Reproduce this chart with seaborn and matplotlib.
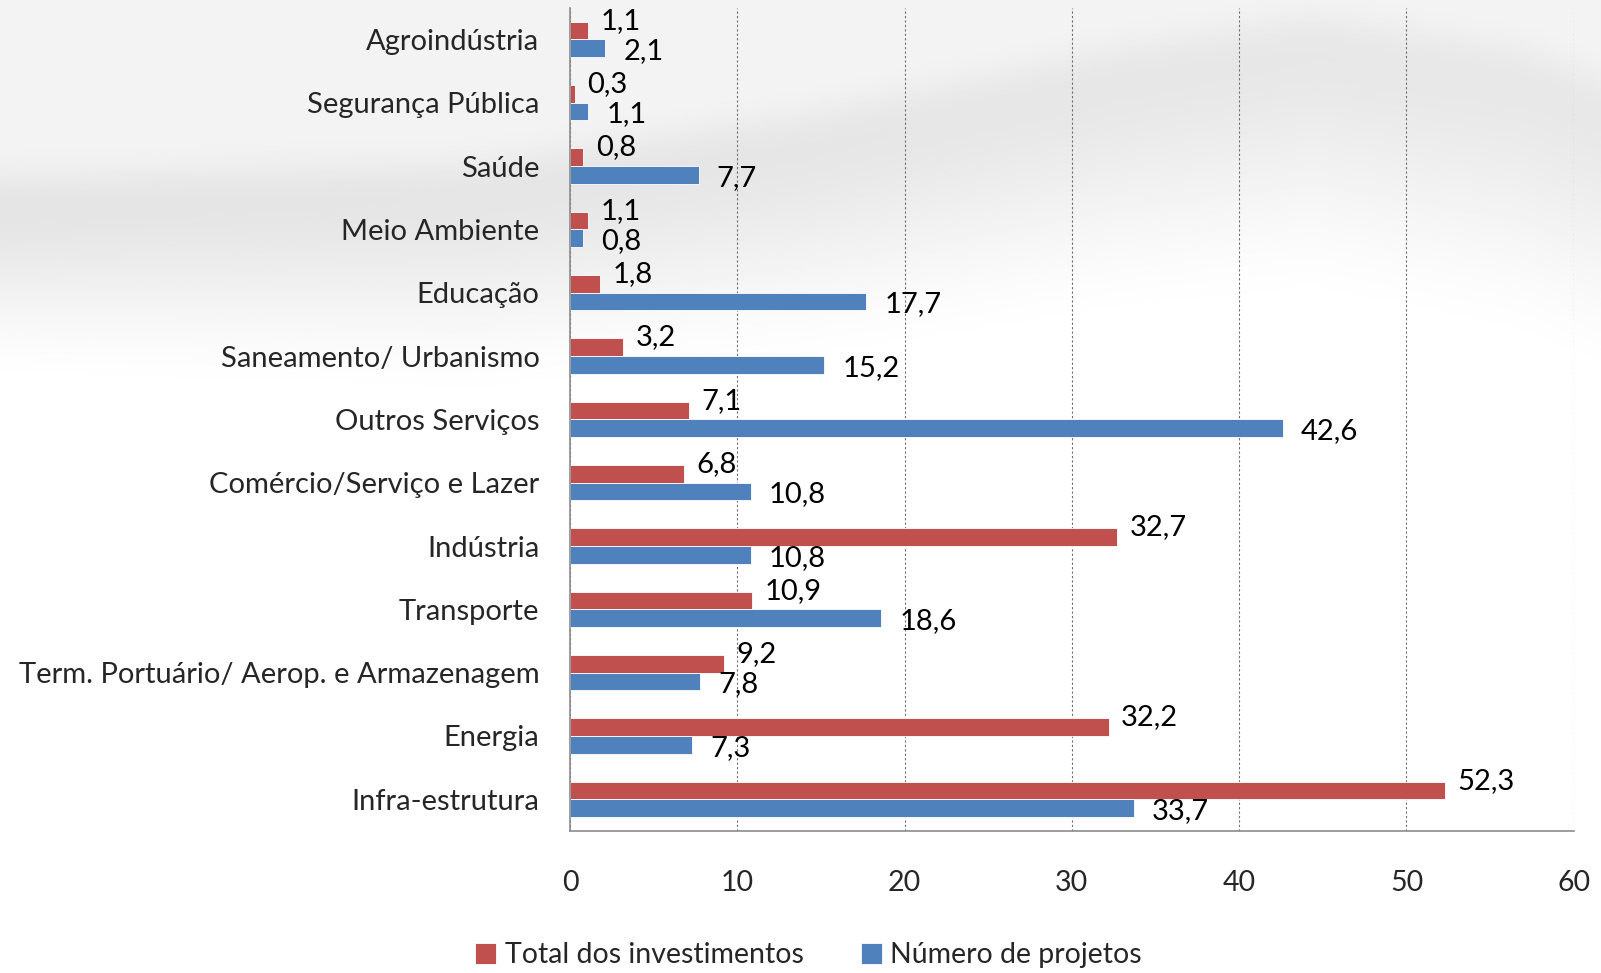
import numpy as np
import pandas as pd
import matplotlib
matplotlib.use("Agg")
import matplotlib.pyplot as plt
import seaborn as sns

# data
setores = ['Agroindústria', 'Segurança Pública', 'Saúde', 'Meio Ambiente', 'Educação',
           'Saneamento/ Urbanismo', 'Outros Serviços', 'Comércio/Serviço e Lazer',
           'Indústria', 'Transporte', 'Term. Portuário/ Aerop. e Armazenagem',
           'Energia', 'Infra-estrutura']
total_investimentos = [1.1, 0.3, 0.8, 1.1, 1.8, 3.2, 7.1, 6.8, 32.7, 10.9, 9.2, 32.2, 52.3]
numero_projetos = [2.1, 1.1, 7.7, 0.8, 17.7, 15.2, 42.6, 10.8, 10.8, 18.6, 7.8, 7.3, 33.7]
series = ['Total dos investimentos', 'Número de projetos']
x_ticks = [0, 10, 20, 30, 40, 50, 60]

df = pd.DataFrame({
    'setor': setores * 2,
    'serie': [series[0]] * len(setores) + [series[1]] * len(setores),
    'valor': total_investimentos + numero_projetos,
})

sns.set_style('white')
plt.rcParams['font.family'] = ['Lato', 'DejaVu Sans']

fig = plt.figure(figsize=(16.01, 9.73), dpi=100)

# decorative grey wave in the background (not data)
bg = fig.add_axes([0, 0, 1, 1], zorder=-1)
xx, yy = np.meshgrid(np.linspace(0, 1, 500), np.linspace(0, 1, 400))
c = np.interp(xx, [0, 0.3, 0.5, 0.7, 0.82, 0.95, 1.0],
              [0.185, 0.17, 0.12, 0.05, 0.018, 0.05, 0.08])
fade_len = 0.22 + 0.12 * xx
t = np.clip((yy - c) / fade_len, 0, 1)
below = 0.885 + 0.115 * (3 * t ** 2 - 2 * t ** 3) + 0.02 * xx * (1 - t)
s = 1 / (1 + np.exp(-(yy - c) / 0.012))
shade = 0.955 * (1 - s) + below * s
shade = np.clip(shade, 0, 1)
bg.imshow(shade, cmap='gray', vmin=0, vmax=1, aspect='auto', extent=[0, 1, 1, 0])
bg.set_axis_off()

ax = fig.add_axes([0.356, 0.146, 0.627, 0.846])
ax.set_facecolor('none')

sns.barplot(data=df, y='setor', x='valor', hue='serie', orient='h', ax=ax,
            palette=['#C0504D', '#4F81BD'], width=0.56, saturation=1,
            edgecolor='#FFFFFF', linewidth=0.6)

# value labels: red ones nudged up, blue ones nudged down (as in the original)
for i, cont in enumerate(ax.containers):
    nudge = (9, 7) if i == 0 else (13, -2)
    for bar, v in zip(cont, cont.datavalues):
        ax.annotate(f'{v:.1f}'.replace('.', ','),
                    (bar.get_width(), bar.get_y() + bar.get_height() / 2),
                    xytext=nudge, textcoords='offset points',
                    ha='left', va='center', fontsize=21, color='black')

ax.set_xlim(0, 60)
ax.set_ylim(len(setores) - 0.5, -0.5)
ax.set_xticks(x_ticks)
ax.set_xticklabels([str(t) for t in x_ticks], fontsize=20.5)
ax.tick_params(axis='x', direction='out', length=8, width=1, color='#8C8C8C', pad=20)
ax.set_yticks(np.arange(len(setores)))
ax.set_yticklabels(setores, fontsize=21)
ax.tick_params(axis='y', length=0, pad=22)
ax.set_yticks(np.arange(len(setores) + 1) - 0.5, minor=True)
ax.tick_params(axis='y', which='minor', direction='out', length=8, width=1, color='#8C8C8C')
ax.set_xlabel('')
ax.set_ylabel('')

ax.grid(axis='x', color='#6E6E6E', linestyle=(0, (2, 2)), linewidth=0.8)
ax.set_axisbelow(True)
sns.despine(ax=ax, top=True, right=True)
for side in ['left', 'bottom']:
    ax.spines[side].set_color('#8C8C8C')
    ax.spines[side].set_linewidth(1.2)

ax.legend_.remove()
handles, labels = ax.get_legend_handles_labels()
fig.legend(handles, labels, loc='center', bbox_to_anchor=(0.505, 0.018), ncol=2,
           frameon=False, fontsize=20.5, handlelength=0.75, handleheight=0.75,
           handletextpad=0.3, columnspacing=2.0)

fig.savefig('out.png', dpi=100)
